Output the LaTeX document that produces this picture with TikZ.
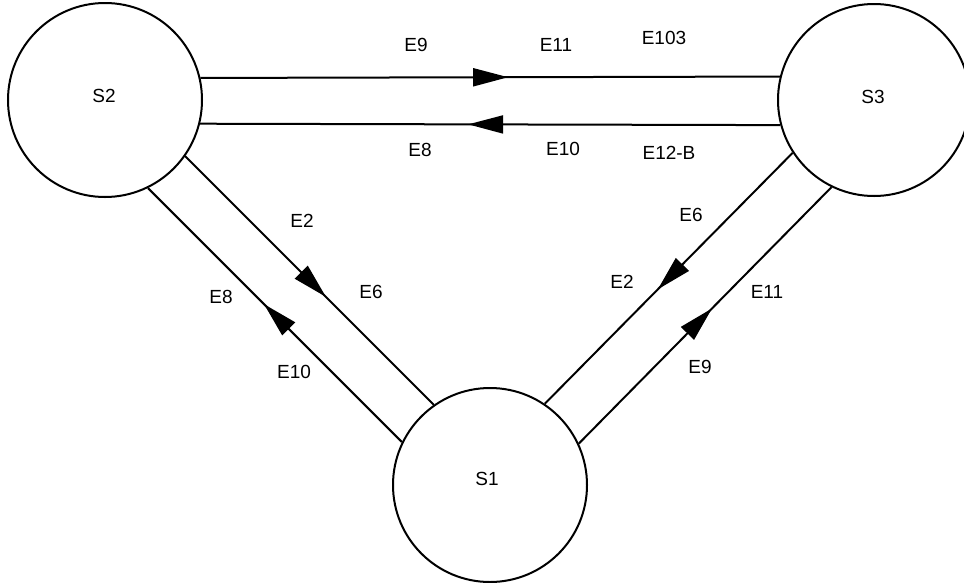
\documentclass[tikz,border=0pt]{standalone}
\usepackage{fontspec}
\setmainfont{Liberation Sans}
\usetikzlibrary{arrows.meta,decorations.markings}
\tikzset{
  state/.style={circle,draw,line width=2pt,minimum size=194pt,inner sep=0pt},
  lbl/.style={font=\fontsize{19}{22}\selectfont,inner sep=0pt},
  conn/.style={line width=2pt},
  arrowat/.style={postaction={decorate},decoration={markings,
    mark=at position #1 with {\arrow{Triangle[length=35pt,width=18pt]}}}}
}
\begin{document}
\begin{tikzpicture}[x=1pt,y=-1pt]
\useasboundingbox (0,0) rectangle (964,582);
% states
\node[state] (S2) at (105,100) {};
\node[state,minimum size=192pt] (S3) at (874,100) {};
\node[state] (S1) at (490,485) {};
\node[lbl] (tS2) at (104,96) {S2};
\node[lbl] (tS3) at (873,97) {S3};
\node[lbl] (tS1) at (487,479) {S1};
% horizontal connectors
\draw[conn,arrowat=0.531] (S2.13.7) -- (S3.166.1);
\draw[conn,arrowat=0.538] (S3.195.1) -- (S2.-14.9);
% S2 - S1
\draw[conn,arrowat=0.566] (S2.-35.8) -- (S1.125.8);
\draw[conn,arrowat=0.543] (S1.154.6) -- (S2.-64.6);
% S3 - S1
\draw[conn,arrowat=0.544] (S3.213.96) -- (S1.56.35);
\draw[conn,arrowat=0.527] (S1.25.85) -- (S3.244.8);
% labels
\node[lbl] (l1) at (416,45) {E9};
\node[lbl] (l2) at (556,45) {E11};
\node[lbl] (l3) at (664,38) {E103};
\node[lbl] (l4) at (420,150) {E8};
\node[lbl] (l5) at (563,149) {E10};
\node[lbl] (l6) at (669,153) {E12-B};
\node[lbl] (l7) at (302,221) {E2};
\node[lbl] (l8) at (371,292) {E6};
\node[lbl] (l9) at (221,297) {E8};
\node[lbl] (l10) at (294,372) {E10};
\node[lbl] (l11) at (691,215) {E6};
\node[lbl] (l12) at (622,282) {E2};
\node[lbl] (l13) at (767,292) {E11};
\node[lbl] (l14) at (700,367) {E9};
\end{tikzpicture}
\end{document}
